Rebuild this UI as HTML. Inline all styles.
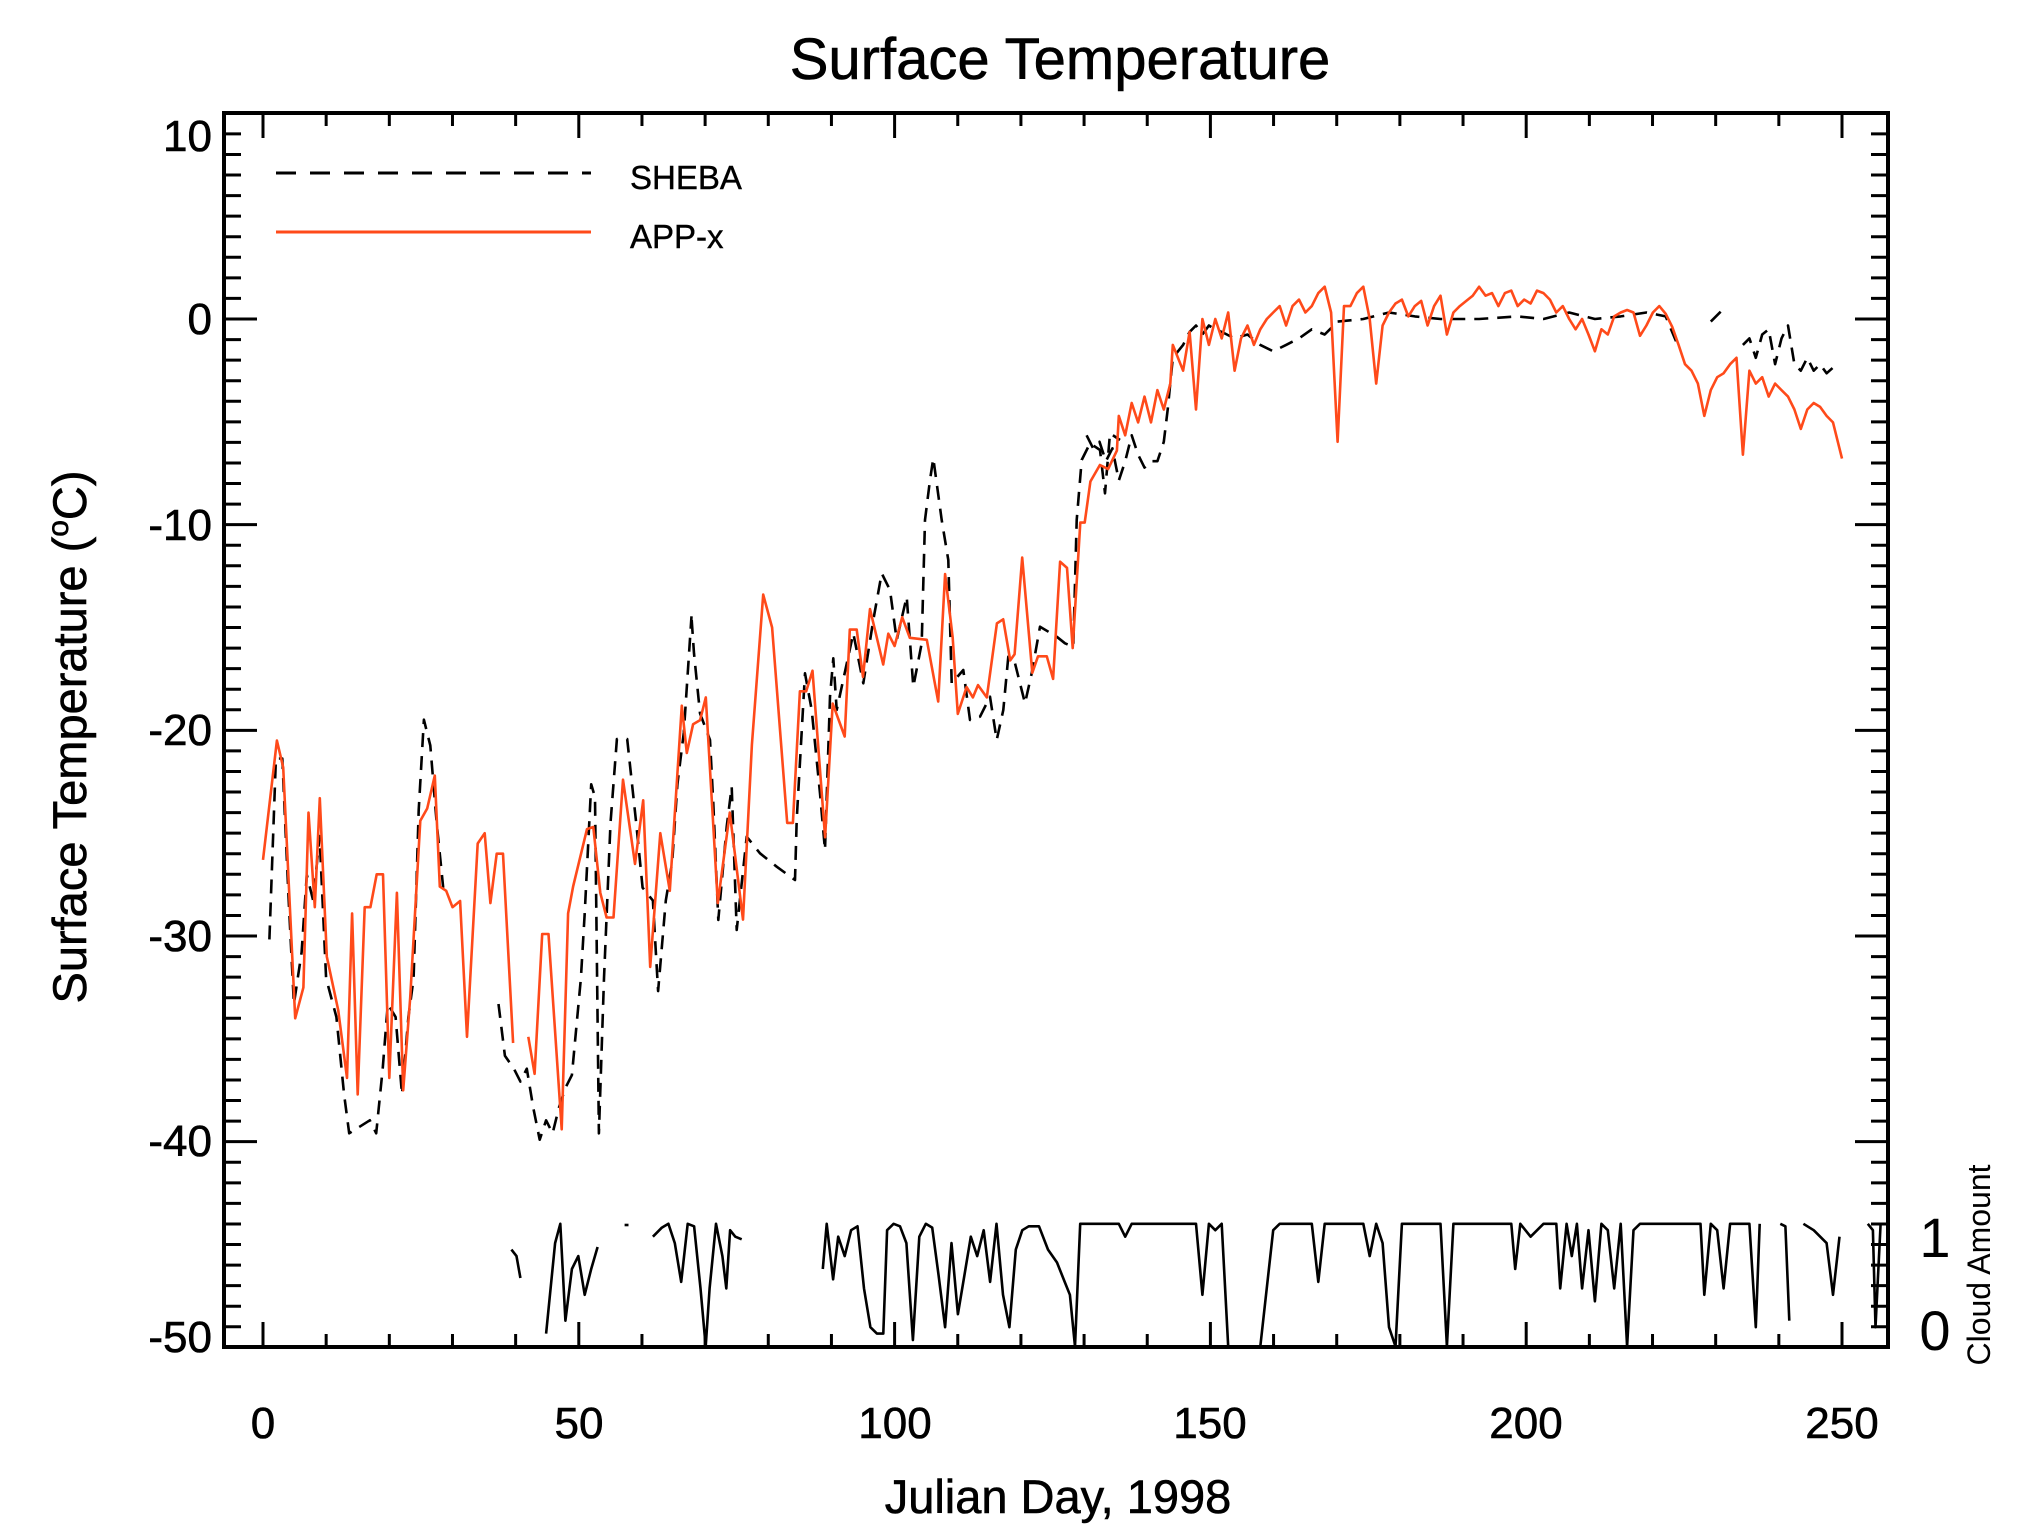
<!DOCTYPE html>
<html><head><meta charset="utf-8"><style>
html,body{margin:0;padding:0;background:#fff;}
svg{display:block;font-family:"Liberation Sans",Arial,sans-serif;}
</style></head><body>
<svg id="c" width="2017" height="1538" viewBox="0 0 2017 1538" xmlns="http://www.w3.org/2000/svg">
<rect width="2017" height="1538" fill="#fff"/>
<g stroke="#000" stroke-width="0.6">
<text x="1060" y="79" font-size="58" text-anchor="middle">Surface Temperature</text>
</g>
<g id="ticks" stroke="#000" stroke-width="3"></g>
<g id="series" fill="none" stroke-linejoin="round"></g>
<rect x="224" y="113" width="1664" height="1234" fill="none" stroke="#000" stroke-width="4"/>
<g font-size="44" text-anchor="end" stroke="#000" stroke-width="0.6">
<text x="212" y="151">10</text>
<text x="212" y="334">0</text>
<text x="212" y="540">-10</text>
<text x="212" y="745">-20</text>
<text x="212" y="951">-30</text>
<text x="212" y="1156">-40</text>
<text x="212" y="1352">-50</text>
</g>
<g font-size="44" text-anchor="middle" stroke="#000" stroke-width="0.6">
<text x="263" y="1438">0</text>
<text x="579" y="1438">50</text>
<text x="895" y="1438">100</text>
<text x="1210" y="1438">150</text>
<text x="1526" y="1438">200</text>
<text x="1842" y="1438">250</text>
</g>
<g stroke="#000" stroke-width="0.6">
<text x="1058" y="1513" font-size="47" text-anchor="middle">Julian Day, 1998</text>
<text transform="translate(86,737) rotate(-90)" font-size="47" text-anchor="middle">Surface Temperature (<tspan font-size="30" dy="-18">o</tspan><tspan dy="18">C)</tspan></text>
</g>
<line x1="276" y1="173" x2="591" y2="173" stroke="#000" stroke-width="3" stroke-dasharray="20,14"/>
<text x="630" y="189" font-size="33" stroke="#000" stroke-width="0.4">SHEBA</text>
<line x1="276" y1="232" x2="591" y2="232" stroke="#ff4a1a" stroke-width="3"/>
<text x="630" y="248" font-size="33" stroke="#000" stroke-width="0.4">APP-x</text>
<text x="1935" y="1257" font-size="56" text-anchor="middle">1</text>
<text x="1935" y="1350" font-size="56" text-anchor="middle">0</text>
<text transform="translate(1990,1265) rotate(-90)" font-size="32" text-anchor="middle">Cloud Amount</text>
</svg>
<script>
(function(){
var NS="http://www.w3.org/2000/svg";
var tk=document.getElementById('ticks'), sg=document.getElementById('series');
function L(g,x1,y1,x2,y2,a){var l=document.createElementNS(NS,'line');l.setAttribute('x1',x1);l.setAttribute('y1',y1);l.setAttribute('x2',x2);l.setAttribute('y2',y2);if(a)for(var k in a)l.setAttribute(k,a[k]);g.appendChild(l);}
function X(d){return 263+d*6.316;} function Y(t){return 319-t*20.567;}
for(var d=0;d<=260;d+=10){var x=X(d);if(x>1886)break;var len=(d%50==0)?25:13;L(tk,x,1347,x,1347-len);L(tk,x,113,x,113+len);}
for(var t=10;t>=-50;t--){var y=Y(t);var len=(t%10==0)?33:17;L(tk,224,y,224+len,y);L(tk,1888,y,1888-len,y);}
function dx(x){return 263+(x-205)*1.2869;} function dy(y){return 319+(y-250)*1.2925;}
function path(pts,stroke,extra){var p=document.createElementNS(NS,'path');var s='';for(var i=0;i<pts.length;i++)s+=(i?'L':'M')+pts[i][0].toFixed(1)+' '+pts[i][1].toFixed(1);p.setAttribute('d',s);p.setAttribute('stroke',stroke);p.setAttribute('stroke-width',2.6);if(extra)for(var k in extra)p.setAttribute(k,extra[k]);sg.appendChild(p);}
function fromDisp(a){return a.map(function(q){return [dx(q[0]),dy(q[1])];});}
function fromDT(a){return a.map(function(q){return [X(q[0]),Y(q[1])];});}
function fromZ5(a){return a.map(function(q){return [620+q[0]/3,420+q[1]/3];});}
var dash={'stroke-dasharray':'14,9'};
path(fromDisp([[210,730],[215,590],[220,590],[225,700],[229,780],[235,740],[239,680],[244,700],[249,650],[254,760],[262,790],[268,850],[272,880],[280,875],[288,870],[293,880],[298,830],[302,780],[308,790],[313,850],[318,790],[322,760],[326,630],[330,560],[335,580],[340,640],[345,690]]),'#000',dash);
path(fromDisp([[388,780],[393,820],[400,830],[405,840],[410,830],[415,860],[420,885],[425,870],[430,880],[435,860],[440,845],[445,835],[452,760],[455,710],[460,610],[463,620],[466,880],[470,760],[475,640],[480,575],[488,575],[495,640],[500,690],[508,700],[512,770],[518,700],[523,670],[527,610],[532,570],[538,480]]),'#000',dash);
path(fromZ5([[215,600],[222,700],[240,880],[270,960],[280,1150],[295,1500],[320,1220],[335,1100],[350,1530],[380,1250],[420,1300],[470,1340],[525,1380],[530,1200],[555,760],[575,870],[600,1120],[615,1290],[630,830],[640,715],[650,870],[700,640],[730,790],[760,600],[785,460],[810,510],[830,660],[860,530],[880,800],[905,670],[915,300],[930,180],[940,115],[965,300],[985,420],[995,790],[1030,750],[1050,900],[1080,890],[1110,830],[1130,960],[1150,870],[1165,710],[1185,730],[1215,850],[1235,760],[1260,620],[1310,650],[1335,670],[1360,680],[1370,300],[1385,120],[1410,70],[1440,90],[1455,220],[1470,40],[1500,60]]),'#000',dash);
path(fromDisp([[845,340],[850,350],[855,345],[860,360],[865,350],[870,375],[875,360],[880,340],[885,355],[890,365],[895,360],[900,360],[905,345],[908,320],[912,280],[920,270],[925,260],[930,255],[935,262],[940,255],[945,258],[950,260],[960,265],[970,262],[980,270],[990,275],[1000,270],[1010,265],[1020,258],[1030,262],[1040,252],[1060,250],[1080,245],[1100,248],[1120,250],[1150,250],[1180,248],[1200,250],[1220,245],[1240,250],[1260,248],[1280,245],[1295,248],[1305,272]]),'#000',dash);
path(fromDisp([[1330,252],[1340,242]]),'#000',dash);
path(fromDisp([[1355,270],[1360,265],[1365,280],[1370,262],[1375,258],[1380,285],[1385,265],[1390,255],[1395,285],[1400,290],[1405,280],[1410,290],[1415,285],[1420,292],[1428,285]]),'#000',dash);
var O='#ff4a1a';
path(fromDT([[0,-26.3],[2.2,-20.5],[3.2,-21.8],[5.1,-34],[6.4,-32.5],[7.2,-24],[8.2,-28.6],[9,-23.3],[10.1,-31],[11.9,-33.6],[13.3,-36.9],[14.1,-28.9],[15,-37.7],[16.1,-28.6],[17,-28.6],[18,-27],[19,-27],[20,-36.9],[21.2,-27.9],[22.2,-37.5],[23.3,-33],[24.9,-24.4],[26,-23.8],[27.2,-22.2],[28,-27.6],[29,-27.8],[30,-28.6],[31.2,-28.3],[32.3,-34.9],[34,-25.5],[35.1,-25],[36,-28.4],[37,-26],[38,-26],[39.6,-35.2]]),O);
path(fromDT([[42,-34.9],[43,-36.7],[44.2,-29.9],[45.2,-29.9],[47.3,-39.4],[48.3,-28.9],[49.1,-27.6],[51.3,-24.8],[52.3,-24.7],[53.4,-27.9],[54.4,-29.1],[55.5,-29.1],[57,-22.4],[58.9,-26.5],[60.2,-23.4],[61.3,-31.5],[62.9,-25],[64.4,-27.8],[66.3,-18.8],[67.1,-21.1],[68.1,-19.7],[69.2,-19.5],[70.1,-18.4],[72,-28.4],[73.9,-24],[76,-29.2],[77.4,-20.7],[79.2,-13.4],[80.6,-15],[83,-24.5],[83.9,-24.5],[85,-18.1],[86,-18.1],[87,-17.1],[89,-25.2],[90.2,-18.7],[92.1,-20.3],[92.9,-15.1],[94,-15.1],[95,-17.4],[96.1,-14.1],[98.2,-16.8],[99,-15.3],[100,-15.9],[101.2,-14.5],[102.4,-15.5],[105.1,-15.6],[106.9,-18.6],[108,-12.4],[109.2,-15.5],[110,-19.2],[111.4,-17.9],[112.4,-18.4],[113.2,-17.8],[114.6,-18.4],[116.2,-14.8],[117.2,-14.6],[118.3,-16.6],[119,-16.3],[120.2,-11.6],[121.8,-17.2],[122.7,-16.4],[124.1,-16.4],[125.1,-17.5],[126.2,-11.8],[127.3,-12.1],[128.2,-16],[129.4,-9.9],[130.1,-9.9],[131,-7.9],[132.5,-7.1],[133.8,-7.3],[135.2,-6.4]]).concat(fromDisp([[870,325],[875,340],[880,315],[885,330],[890,310],[895,330],[900,305],[905,320],[910,300],[912,270],[920,290],[925,260],[930,320],[935,250],[940,270],[945,250],[950,265],[955,245],[960,290],[965,265],[970,255],[975,270],[980,258],[985,250],[990,245],[995,240],[1000,255],[1005,240],[1010,235],[1015,245],[1020,240],[1025,230],[1030,225],[1035,245],[1040,345],[1045,240],[1050,240],[1055,230],[1060,225],[1065,250],[1070,300],[1075,255],[1080,245],[1085,238],[1090,235],[1095,248],[1100,240],[1105,236],[1110,255],[1115,240],[1120,232],[1125,262],[1130,245],[1135,240],[1140,236],[1145,232],[1150,225],[1155,232],[1160,230],[1165,240],[1170,230],[1175,228],[1180,240],[1185,235],[1190,238],[1195,228],[1200,230],[1205,235],[1210,245],[1215,240],[1220,250],[1225,258],[1230,250],[1235,262],[1240,275],[1245,258],[1250,262],[1255,248],[1260,245],[1265,243],[1270,245],[1275,263],[1280,255],[1285,245],[1290,240],[1295,246],[1300,256],[1305,270],[1310,285],[1315,290],[1320,300],[1325,325],[1330,305],[1335,295],[1340,292],[1345,285],[1350,280],[1355,355],[1360,290],[1365,300],[1370,295],[1375,310],[1380,300],[1385,305],[1390,310],[1395,320],[1400,335],[1405,320],[1410,315],[1415,318],[1420,325],[1425,330],[1432,358]])),O);
var segs=[
[[398,970],[402,975],[405,992]],
[[425,1035],[432,965],[436,950],[440,1025],[445,985],[450,975],[455,1005],[460,985],[465,968]],
[[486,951],[489,951]],
[[508,960],[515,953],[520,950],[525,965],[530,995],[535,950],[540,952],[545,1000],[549,1045],[552,1000],[557,950],[562,975],[565,1000],[568,955],[572,960],[577,962]],
[[640,985],[643,950],[648,993],[652,960],[657,975],[662,955],[667,952],[672,1000],[677,1030],[682,1035],[687,1035],[690,955],[695,950],[700,952],[705,965],[710,1040],[715,960],[720,950],[725,953],[730,990],[735,1030],[740,965],[745,1020],[750,990],[755,960],[760,975],[765,955],[770,995],[775,950],[780,1005],[785,1030],[790,970],[795,955],[800,952],[808,952],[815,970],[822,980],[828,995],[832,1005],[836,1045],[840,950],[870,950],[875,960],[880,950],[930,950],[935,1005],[940,950],[945,955],[950,950],[955,1045]],
[[980,1045],[990,955],[995,950],[1020,950],[1025,995],[1030,950],[1060,950],[1065,975],[1070,950],[1075,965],[1080,1030],[1085,1045],[1090,950],[1120,950],[1125,1045],[1130,950],[1175,950],[1178,985],[1182,950],[1190,960],[1200,950],[1210,950],[1213,1000],[1218,950],[1222,975],[1226,950],[1230,1000],[1235,955],[1240,1010],[1245,950],[1250,955],[1255,1000],[1260,950],[1265,1045],[1270,955],[1275,950],[1322,950],[1325,1005],[1330,950],[1335,955],[1340,1000],[1345,950],[1360,950],[1365,1030],[1368,950]],
[[1384,950],[1388,952],[1391,1025]],
[[1402,950],[1410,955],[1420,965],[1425,1005],[1430,960]],
[[1452,950],[1456,955],[1458,1030],[1462,950],[1466,950]]
];
segs.forEach(function(s){path(fromDisp(s),'#000');});
})();
</script>
</body></html>
